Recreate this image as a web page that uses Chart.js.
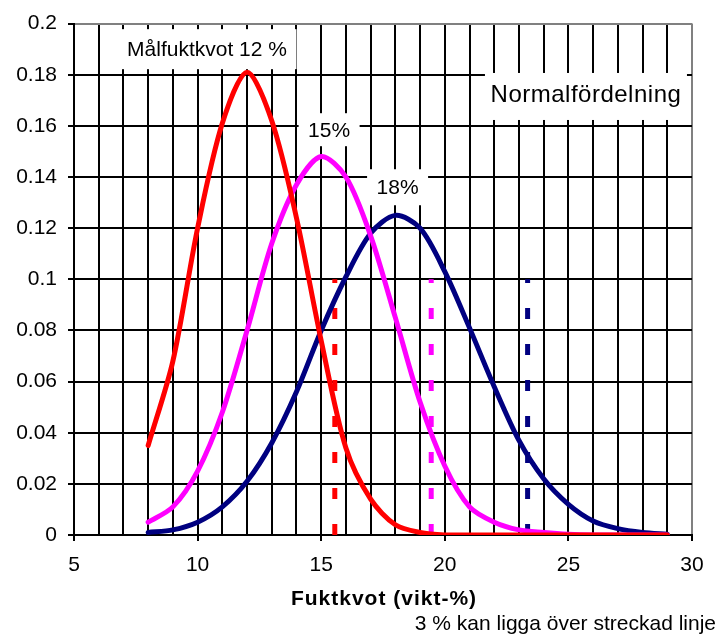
<!DOCTYPE html>
<html>
<head>
<meta charset="utf-8">
<title>Normalfördelning fuktkvot</title>
<script src="https://cdn.jsdelivr.net/npm/chart.js@4.4.1/dist/chart.umd.min.js"></script>
<style>
    html, body { margin: 0; padding: 0; background: #fff; }
    #wrap { width: 717px; height: 634px; }
</style>
</head>
<body>
<div id="wrap"><canvas id="fuktChart" width="717" height="634"></canvas></div>
<script>
// ==================== DATA ====================
const moisture = [8, 9, 10, 11, 12, 13, 14, 15, 16, 17, 18, 19, 20, 21, 22, 23, 24, 25, 26, 27, 28, 29];
const target12 = [0.035, 0.068, 0.120, 0.161, 0.181, 0.162, 0.124, 0.076, 0.034, 0.014, 0.004, 0.001, 0, 0, 0, 0, 0, 0, 0, 0, 0, 0];
const target15 = [0.005, 0.011, 0.025, 0.048, 0.080, 0.114, 0.137, 0.148, 0.140, 0.117, 0.085, 0.052, 0.027, 0.011, 0.005, 0.002, 0.001, 0.0003, 0, 0, 0, 0];
const target18 = [0.001, 0.002, 0.005, 0.011, 0.021, 0.036, 0.056, 0.080, 0.101, 0.118, 0.125, 0.120, 0.103, 0.081, 0.058, 0.037, 0.022, 0.012, 0.0055, 0.0025, 0.001, 0.0003];

// 3 % limits (dashed lines), height of the dashed lines
const limitX = [15.55, 19.45, 23.35];
const limitTop = 0.1;

const xMin = 5, xMax = 30;
const yMin = 0, yMax = 0.2;

const seriesColors = ['#ff0000', '#ff00ff', '#000080'];
const FONT = 'Arial, "Liberation Sans", sans-serif';

// ==================== HELPERS ====================
function toPoints(xs, ys) {
    return xs.map((x, i) => ({ x: x, y: ys[i] }));
}

function limitLine(x, color) {
    return {
        data: [{ x: x, y: 0 }, { x: x, y: limitTop }],
        borderColor: color,
        borderWidth: 5,
        borderDash: [11, 25],
        borderCapStyle: 'butt',
        pointRadius: 0,
        tension: 0
    };
}

function curve(ys, color) {
    return {
        data: toPoints(moisture, ys),
        borderColor: color,
        borderWidth: 5,
        pointRadius: 0,
        tension: 0.3,
        borderCapStyle: 'round',
        borderJoinStyle: 'round'
    };
}

// text boxes in the plot (anchored in data units)
const notes = [
    { text: 'Målfuktkvot 12 %', x: 10.38, y: 0.190, w: 179, h: 40, size: 21 },
    { text: '15%', x: 15.32, y: 0.1585, w: 61, h: 33, size: 21 },
    { text: '18%', x: 18.09, y: 0.136, w: 61, h: 36, size: 21 },
    { text: 'Normalfördelning', x: 25.71, y: 0.1715, w: 202, h: 47, size: 24, spacing: '0.5px', dy: -2 }
];

const notesPlugin = {
    id: 'notes',
    beforeDatasetsDraw(chart) {
        const ctx = chart.ctx;
        const xs = chart.scales.x, ys = chart.scales.y;
        ctx.save();
        notes.forEach(n => {
            const cx = xs.getPixelForValue(n.x);
            const cy = ys.getPixelForValue(n.y);
            ctx.fillStyle = '#ffffff';
            ctx.fillRect(cx - n.w / 2, cy - n.h / 2, n.w, n.h);
            ctx.fillStyle = '#000000';
            ctx.font = n.size + 'px ' + FONT;
            ctx.letterSpacing = n.spacing || '0px';
            ctx.textAlign = 'center';
            ctx.textBaseline = 'middle';
            ctx.fillText(n.text, cx, cy + 1 + (n.dy || 0));
        });
        ctx.restore();
    },
    afterDraw(chart) {
        const ctx = chart.ctx;
        const area = chart.chartArea;
        ctx.save();
        ctx.fillStyle = '#000000';
        ctx.textBaseline = 'middle';
        // axis title
        ctx.font = 'bold 21px ' + FONT;
        ctx.letterSpacing = '1px';
        ctx.textAlign = 'center';
        ctx.fillText('Fuktkvot (vikt-%)', 384, area.bottom + 64);
        // footnote
        ctx.font = '21px ' + FONT;
        ctx.letterSpacing = '0px';
        ctx.textAlign = 'right';
        ctx.fillText('3 % kan ligga över streckad linje', 716, area.bottom + 89);
        ctx.restore();
    }
};

// ==================== CHART ====================
const datasets = [
    curve(target12, seriesColors[0]),
    curve(target15, seriesColors[1]),
    curve(target18, seriesColors[2]),
    limitLine(limitX[0], seriesColors[0]),
    limitLine(limitX[1], seriesColors[1]),
    limitLine(limitX[2], seriesColors[2])
];

new Chart(document.getElementById('fuktChart'), {
    type: 'line',
    data: { datasets: datasets },
    plugins: [notesPlugin],
    options: {
        responsive: false,
        animation: false,
        events: [],
        layout: { padding: { left: 0, right: 25, top: 20, bottom: 0 } },
        plugins: {
            legend: { display: false },
            tooltip: { enabled: false }
        },
        scales: {
            x: {
                type: 'linear',
                min: xMin,
                max: xMax,
                afterFit(scale) { scale.height = 99; },
                ticks: {
                    stepSize: 1,
                    autoSkip: false,
                    maxRotation: 0,
                    padding: 12,
                    color: '#000',
                    font: { family: FONT, size: 21 },
                    callback: v => (v % 5 === 0 ? String(v) : '')
                },
                grid: {
                    color: c => (c.tick && c.tick.value === xMax ? '#808080' : '#000000'),
                    lineWidth: 2,
                    tickLength: 6,
                    tickColor: c => (c.tick && c.tick.value % 5 === 0 ? '#000000' : 'rgba(0,0,0,0)')
                },
                border: { color: '#000000', width: 2 }
            },
            y: {
                min: yMin,
                max: yMax,
                afterFit(scale) { scale.width = 74; },
                ticks: {
                    stepSize: 0.02,
                    padding: 11,
                    color: '#000',
                    font: { family: FONT, size: 21 },
                    callback: v => String(Math.round(v * 100) / 100)
                },
                grid: {
                    color: c => (c.tick && Math.abs(c.tick.value - yMax) < 1e-9 ? '#808080' : '#000000'),
                    lineWidth: 2,
                    tickLength: 6,
                    tickColor: '#000000'
                },
                border: { color: '#000000', width: 2 }
            }
        }
    }
});
</script>
</body>
</html>
